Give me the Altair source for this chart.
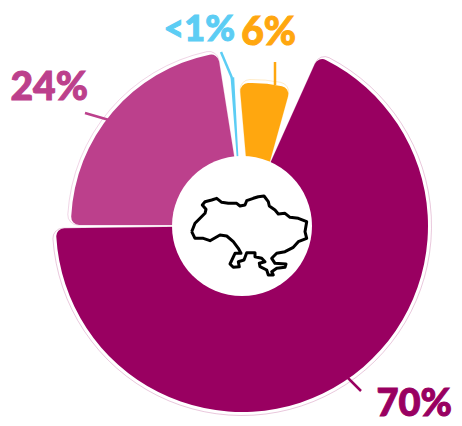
import math
import altair as alt
import pandas as pd

# Slices: label share, colour, angles (degrees clockwise from top)
labels = ["70%", "24%", "<1%", "6%"]
colors = ["#990061", "#bc408c", "#5ccdf4", "#ffa70f"]
theta_start = [24.2, 270.0, 355.6, 355.0]
theta_end = [269.3, 351.0, 357.0, 375.5]
outer_r = [186, 174, 149, 143]
center_x = [234, 237, 234, 244]
center_y = [218, 217, 218, 218]

# Outline of the country (image pixels)
map_x = [191.7,195,198.3,205,206,202.3,205,211.7,216.7,221.7,228.3,236.7,240,245,246.7,253.3,258.3,264,268.3,269.3,275,278.3,285,290,298.3,306.7,305,306.7,298.3,293.3,285,276.7,271.7,275,286,285,276.7,271.7,273.3,268.3,266.7,260,259.3,265,261.7,255,255,246.7,244,238.3,239.3,233.3,230,235,241,238.3,233.3,226.7,220,210,203.3,195,191.7]
map_y = [231.7,223.3,220,213.3,209.3,205,201.7,200,198.3,202.3,203.3,203.3,206,205,200.7,198.3,196.7,196,201.7,206,210,214,213.3,217.3,218.3,221.7,231.7,238.3,241.7,247.3,251.7,253.3,258.3,263.3,264,267.3,268.3,271.7,275,275,270,266.7,263.3,261.7,258.3,256.7,252.7,252.7,260,261.7,266.7,267.3,264,253.3,253.3,248.3,241.7,236,235,240.7,238.3,238.3,231.7]

CX, CY = 234, 218  # chart pixels
R0 = 50
theta_scale = alt.Scale(domain=[0, 360], range=[0, 2 * math.pi])
xs = alt.Scale(domain=[8, 454], range=[0, 446])
ys = alt.Scale(domain=[8, 418], range=[0, 410])


def arc(i, extra, fill, **kw):
    df = pd.DataFrame({"a": [theta_start[i]], "b": [theta_end[i]]})
    return alt.Chart(df).mark_arc(
        radius=outer_r[i] + extra, radius2=R0, cornerRadius=kw.pop("corner", 8), fill=fill, **kw
    ).encode(
        theta=alt.Theta("a:Q", scale=theta_scale, stack=None),
        theta2="b:Q",
        x=alt.value(center_x[i]),
        y=alt.value(center_y[i]),
    )


halos = [arc(i, 3.5, "white", stroke="white", strokeWidth=7, corner=10) for i in range(4)]
rims = [arc(i, 3.5, "none", stroke=colors[i], strokeWidth=1, strokeOpacity=0.22, corner=10) for i in (0, 1, 3)]
slices = [arc(i, 0, colors[i], corner=(0 if i == 2 else 8)) for i in range(4)]

hole = alt.Chart(pd.DataFrame({"a": [0], "b": [360]})).mark_arc(radius=70, radius2=0, fill="white").encode(
    theta=alt.Theta("a:Q", scale=theta_scale, stack=None), theta2="b:Q", x=alt.value(CX), y=alt.value(CY)
)

outline = alt.Chart(pd.DataFrame({"x": map_x, "y": map_y, "o": range(len(map_x))})).mark_line(
    color="black", strokeWidth=3, strokeJoin="round", interpolate="linear"
).encode(
    x=alt.X("x:Q", scale=xs, axis=None),
    y=alt.Y("y:Q", scale=ys, axis=None),
    order="o:Q",
)

lines = [(339, 369, 353, 383, 0), (77, 105, 101, 112, 1), (213, 44, 224, 70, 2), (267, 54, 267, 77, 3)]
leaders = [
    alt.Chart(pd.DataFrame({"k": [0]})).mark_rule(color=colors[c], strokeWidth=2.5).encode(
        x=alt.value(x1), y=alt.value(y1), x2=alt.value(x2), y2=alt.value(y2)
    )
    for x1, y1, x2, y2, c in lines
]

text_pos = [(444, 408), (80, 92), (227, 33), (288, 37)]
text_size = [38, 39, 36, 39]
texts = [
    alt.Chart(pd.DataFrame({"t": [labels[i]]})).mark_text(
        font="Lato", fontWeight=900, fontSize=text_size[i], align="right", baseline="alphabetic",
        color=colors[i], stroke=colors[i], strokeWidth=1
    ).encode(x=alt.value(text_pos[i][0]), y=alt.value(text_pos[i][1]), text="t:N")
    for i in range(4)
]

chart = alt.layer(*halos, *rims, *slices, hole, outline, *leaders, *texts).properties(
    width=446, height=410, padding=0, autosize=alt.AutoSizeParams(type="none"), background="white"
).configure_view(stroke=None)

chart.save("out.html", embed_options={"renderer": "svg", "actions": False})
